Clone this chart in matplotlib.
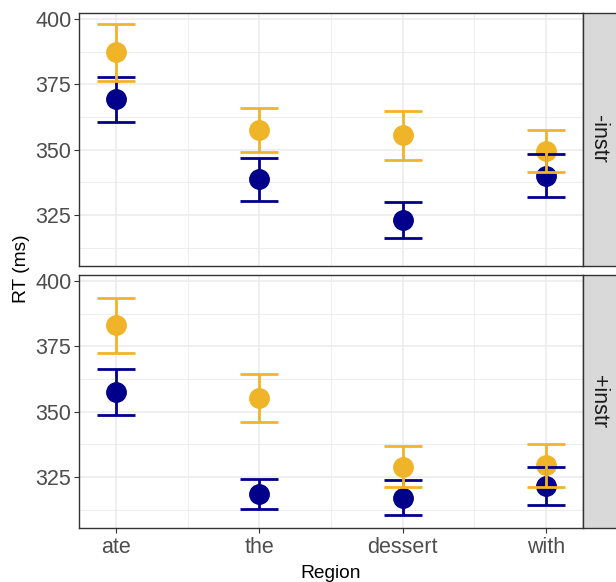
import numpy as np
import matplotlib
matplotlib.use("Agg")
import matplotlib.pyplot as plt
from matplotlib.patches import Rectangle

plt.rcParams['font.family'] = ['Liberation Sans', 'DejaVu Sans']

regions = ['ate', 'the', 'dessert', 'with']
panels = ['-instr', '+instr']

# means and half-widths of the error bars, per panel
yellow_mean = {'-instr': [387.2, 357.5, 355.5, 349.5],
               '+instr': [383.0, 355.2, 329.0, 329.5]}
yellow_err = {'-instr': [11.0, 8.4, 9.4, 8.0],
              '+instr': [10.6, 9.2, 7.7, 8.2]}
blue_mean = {'-instr': [369.2, 338.7, 323.0, 340.0],
             '+instr': [357.5, 318.5, 317.0, 321.5]}
blue_err = {'-instr': [8.7, 8.2, 6.9, 8.2],
            '+instr': [8.8, 5.6, 6.7, 7.3]}

yellow = '#F0B429'
blue = '#00008B'
grid_col = '#EBEBEB'
border = '#333333'

fig = plt.figure(figsize=(6.16, 5.82), dpi=100)
W, H = 616.0, 582.0
left, right = 79 / W, 583 / W
boxes = [(13, 265.7), (275, 527.7)]

x = np.arange(1, len(regions) + 1)
axes = []
for i, p in enumerate(panels):
    top, bot = boxes[i]
    ax = fig.add_axes([left, 1 - bot / H, right - left, (bot - top) / H])
    axes.append(ax)
    ax.set_xlim(0.74, 4.26)
    ax.set_ylim(305.6, 402.3)
    ax.set_yticks([325, 350, 375, 400])
    ax.set_yticks([312.5, 337.5, 362.5, 387.5], minor=True)
    ax.set_xticks(x)
    ax.set_xticks([1.5, 2.5, 3.5], minor=True)
    ax.grid(True, which='major', color=grid_col, lw=1.1)
    ax.grid(True, which='minor', color=grid_col, lw=0.6)
    ax.set_axisbelow(True)
    for s in ax.spines.values():
        s.set_color(border)
        s.set_linewidth(1.0)
    ax.tick_params(which='major', length=3.5, width=0.8, color=border,
                   labelsize=15.5, labelcolor='#4D4D4D', pad=2)
    ax.tick_params(axis='x', pad=3.5)
    ax.tick_params(which='minor', length=0)

    ax.plot(x, yellow_mean[p], 'o', color=yellow, ms=14, zorder=3)
    ax.plot(x, blue_mean[p], 'o', color=blue, ms=14, zorder=3)
    ax.errorbar(x, blue_mean[p], yerr=blue_err[p], fmt='none', ecolor=blue,
                elinewidth=2.0, capsize=14, capthick=2.0, zorder=4)
    ax.errorbar(x, yellow_mean[p], yerr=yellow_err[p], fmt='none', ecolor=yellow,
                elinewidth=2.0, capsize=14, capthick=2.0, zorder=4)

    # facet strip on the right
    fig.patches.append(Rectangle((right, 1 - bot / H), 1 - right + 0.01, (bot - top) / H,
                                 transform=fig.transFigure, facecolor='#D9D9D9',
                                 edgecolor=border, lw=1.0))
    fig.text(599 / W, 1 - (top + bot) / 2 / H, p, rotation=-90, ha='center', va='center',
             fontsize=15.5, color='#1A1A1A')

axes[0].tick_params(labelbottom=False, length=0, axis='x')
axes[1].set_xticklabels(regions)

fig.text((79 + 583) / 2 / W, 1 - 573 / H, 'Region', ha='center', va='center', fontsize=13.8)
fig.text(21 / W, 1 - 269 / H, 'RT (ms)', ha='center', va='center', rotation=90, fontsize=13.8)

fig.savefig('out.png', dpi=100)
